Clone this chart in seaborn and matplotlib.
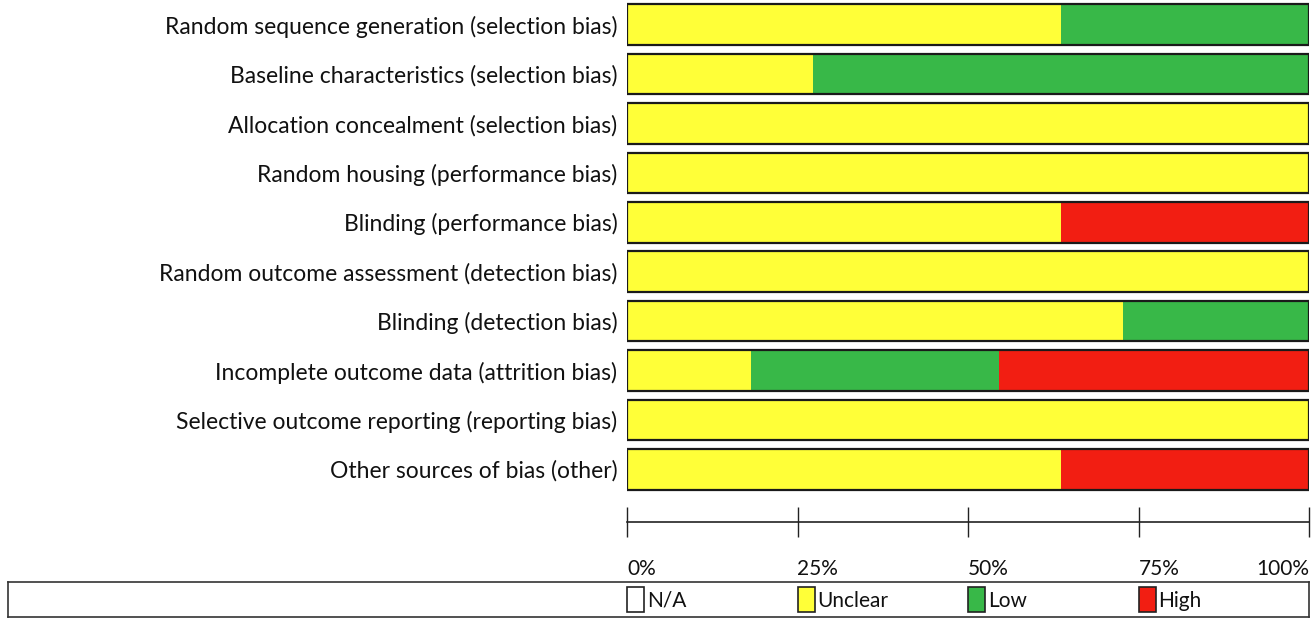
import matplotlib
matplotlib.use("Agg")
import matplotlib.pyplot as plt
import matplotlib.transforms as mtransforms
from matplotlib.patches import Rectangle
import pandas as pd
import seaborn as sns

# risk of bias summary, 11 studies, counts per judgement
domains = [
    "Random sequence generation (selection bias)",
    "Baseline characteristics (selection bias)",
    "Allocation concealment (selection bias)",
    "Random housing (performance bias)",
    "Blinding (performance bias)",
    "Random outcome assessment (detection bias)",
    "Blinding (detection bias)",
    "Incomplete outcome data (attrition bias)",
    "Selective outcome reporting (reporting bias)",
    "Other sources of bias (other)",
]
unclear = [7, 3, 11, 11, 7, 11, 8, 2, 11, 7]
low = [4, 8, 0, 0, 0, 0, 3, 4, 0, 0]
high = [0, 0, 0, 0, 4, 0, 0, 5, 0, 4]
n_studies = 11

tick_vals = [0, 25, 50, 75, 100]
tick_labels = ["0%", "25%", "50%", "75%", "100%"]
legend_names = ["N/A", "Unclear", "Low", "High"]
legend_colors = ["white", "#FFFF38", "#38B848", "#F21E12"]

df = pd.DataFrame({"domain": domains, "unclear": unclear, "low": low, "high": high})
df["p_unclear"] = df["unclear"] / n_studies * 100
df["p_low"] = (df["unclear"] + df["low"]) / n_studies * 100
df["p_high"] = (df["unclear"] + df["low"] + df["high"]) / n_studies * 100

sns.set_theme(style="white")
plt.rcParams["font.family"] = ["Lato", "DejaVu Sans"]

W, H = 1314, 619
fig = plt.figure(figsize=(W / 100, H / 100), dpi=100)
ax = fig.add_axes([627 / W, 1 - 494 / H, (1309 - 627) / W, 494 / H])

# stacked bars: draw cumulative layers from the longest down
for col, color in [("p_high", legend_colors[3]), ("p_low", legend_colors[2]),
                   ("p_unclear", legend_colors[1])]:
    sns.barplot(data=df, x=col, y="domain", orient="h", color=color,
                width=0.82, linewidth=0, saturation=1, ax=ax)
# outline
sns.barplot(data=df, x="p_high", y="domain", orient="h", fill=False,
            edgecolor="#1a1a1a", linewidth=1.6, width=0.82, ax=ax)

ax.set_xlim(0, 100)
ax.set_ylim(9.5, -0.5)
ax.set_xlabel("")
ax.set_ylabel("")
for s in ["top", "right", "left"]:
    ax.spines[s].set_visible(False)
ax.spines["bottom"].set_position(("outward", 20))
ax.spines["bottom"].set_color("#222222")
ax.spines["bottom"].set_linewidth(1.2)
ax.tick_params(axis="y", left=False, length=0, pad=7, labelsize=16.5,
               labelcolor="#111111")
ax.set_xticks(tick_vals)
ax.set_xticklabels(tick_labels)
ax.tick_params(axis="x", bottom=True, direction="inout", length=21, width=1,
               color="#222222", pad=16, labelsize=15, labelcolor="#111111")
for lab in ax.get_xticklabels():
    lab.set_horizontalalignment("left")
ax.get_xticklabels()[-1].set_horizontalalignment("right")

# legend box below
lax = fig.add_axes([8 / W, 2 / H, (1309 - 8) / W, 35 / H])
lax.set_xticks([])
lax.set_yticks([])
for s in lax.spines.values():
    s.set_color("#333333")
    s.set_linewidth(1.2)
trans = mtransforms.blended_transform_factory(ax.transData, lax.transAxes)
patch_w = 2.5
for xv, name, color in zip(tick_vals[:-1], legend_names, legend_colors):
    lax.add_patch(Rectangle((xv, 0.14), patch_w, 0.72, transform=trans,
                            facecolor=color, edgecolor="#222222", linewidth=1.2,
                            clip_on=False))
    lax.text(xv + patch_w + 0.4, 0.47, name, transform=trans, va="center",
             ha="left", fontsize=15, color="#111111")

fig.savefig("out.png", dpi=100)
